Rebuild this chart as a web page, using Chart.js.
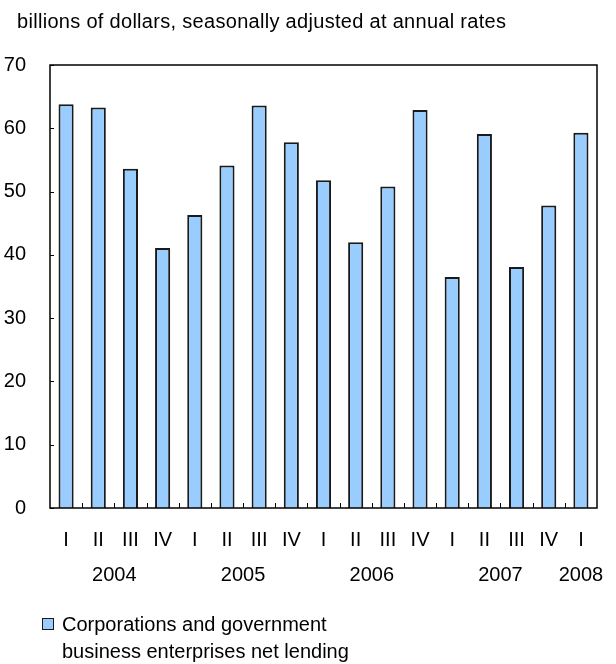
<!DOCTYPE html>
<html>
<head>
<meta charset="utf-8">
<title>Net lending</title>
<script src="https://cdn.jsdelivr.net/npm/chart.js@4/dist/chart.umd.min.js"></script>
<style>
  html, body { margin: 0; padding: 0; background: #fff; }
  canvas { display: block; }
</style>
</head>
<body>
<canvas id="myChart" width="616" height="664"></canvas>
<script>
// quarters 2004 Q1 .. 2008 Q1
const quarters = ['I', 'II', 'III', 'IV', 'I', 'II', 'III', 'IV', 'I', 'II', 'III', 'IV', 'I', 'II', 'III', 'IV', 'I'];
const quarterYears = ['2004', '2004', '2004', '2004', '2005', '2005', '2005', '2005', '2006', '2006', '2006', '2006', '2007', '2007', '2007', '2007', '2008'];
const netLending = [63.8, 63.3, 53.6, 41.1, 46.3, 54.1, 63.6, 57.8, 51.8, 42.0, 50.8, 62.9, 36.5, 59.1, 38.1, 47.8, 59.3];
const yTicks = [0, 10, 20, 30, 40, 50, 60, 70];
const unitsLine = 'billions of dollars, seasonally adjusted at annual rates';
const legendLines = ['Corporations and government', 'business enterprises net lending'];

const FONT = '"Liberation Sans", Arial, Helvetica, sans-serif';
const barFill = '#99ccff';
const barEdge = '#1a1a1a';

Chart.defaults.font.family = FONT;
Chart.defaults.font.size = 20;
Chart.defaults.color = '#000';

//----------------------------------------extras--------------------------------------//
// frame, inward tick marks, year row, units line and legend
const extras = {
  id: 'extras',
  afterDraw(chart) {
    const ctx = chart.ctx;
    const area = chart.chartArea;
    const x = chart.scales.x;
    const y = chart.scales.y;

    ctx.save();
    ctx.strokeStyle = '#000';
    ctx.lineWidth = 1.5;
    ctx.strokeRect(area.left, area.top, area.right - area.left, area.bottom - area.top);

    // y ticks pointing into the plot
    ctx.lineWidth = 1;
    ctx.beginPath();
    yTicks.forEach(function(v) {
      var py = Math.round(y.getPixelForValue(v)) + 0.5;
      ctx.moveTo(area.left, py);
      ctx.lineTo(area.left + 4, py);
    });
    // x ticks between quarters
    for (var i = 1; i < quarters.length; i++) {
      var px = Math.round((x.getPixelForValue(i - 1) + x.getPixelForValue(i)) / 2) + 0.5;
      ctx.moveTo(px, area.bottom);
      ctx.lineTo(px, area.bottom - 5);
    }
    ctx.stroke();

    // year row, centred under each year's quarters
    ctx.fillStyle = '#000';
    ctx.font = '20px ' + FONT;
    ctx.textAlign = 'center';
    ctx.textBaseline = 'middle';
    var years = [];
    quarterYears.forEach(function(yr) {
      if (years.indexOf(yr) < 0) years.push(yr);
    });
    years.forEach(function(yr) {
      var sum = 0, n = 0;
      quarterYears.forEach(function(q, idx) {
        if (q === yr) { sum += x.getPixelForValue(idx); n++; }
      });
      ctx.fillText(yr, sum / n, 575);
    });

    // units line
    ctx.textAlign = 'left';
    ctx.letterSpacing = '0.3px';
    ctx.fillText(unitsLine, 17, 22);
    ctx.letterSpacing = '0px';

    // legend
    ctx.fillStyle = barFill;
    ctx.fillRect(42, 618, 12, 12);
    ctx.strokeStyle = barEdge;
    ctx.lineWidth = 1;
    ctx.strokeRect(42.5, 618.5, 11, 11);
    ctx.fillStyle = '#000';
    legendLines.forEach(function(line, idx) {
      ctx.fillText(line, 62, 625 + idx * 27);
    });
    ctx.restore();
  }
};
//----------------------------------------extras--------------------------------------//

const data = {
  labels: quarters,
  datasets: [{
    label: legendLines.join(' '),
    data: netLending,
    backgroundColor: barFill,
    borderColor: barEdge,
    borderWidth: 2,
    barPercentage: 0.47,
    categoryPercentage: 1
  }]
};

const myconfig = {
  type: 'bar',
  data: data,
  options: {
    responsive: false,
    animation: false,
    layout: {
      padding: { top: 65, right: 19, left: 0, bottom: 0 }
    },
    plugins: {
      legend: { display: false },
      tooltip: { enabled: false }
    },
    scales: {
      x: {
        offset: true,
        grid: { display: false },
        border: { display: false },
        ticks: { padding: 12, maxRotation: 0, autoSkip: false },
        afterFit: function(scale) { scale.height = 156; }
      },
      y: {
        min: 0,
        max: 70,
        grid: { display: false },
        border: { display: false },
        ticks: { stepSize: 10, padding: 16 },
        afterFit: function(scale) { scale.width = 50; }
      }
    }
  },
  plugins: [extras]
};

var myChart = new Chart(document.getElementById('myChart'), myconfig);
</script>
</body>
</html>
